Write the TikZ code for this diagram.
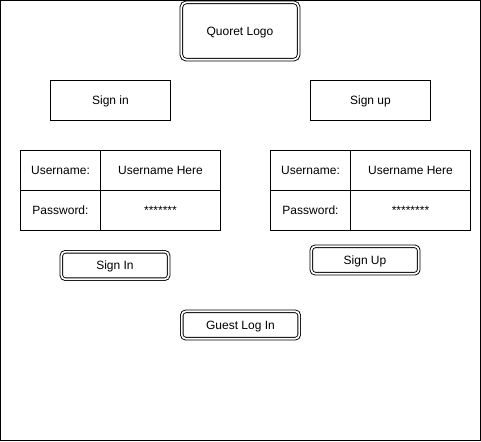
\documentclass[tikz,border=0pt]{standalone}
\usepackage{fontspec}
\setmainfont{Liberation Sans}
\begin{document}
\begin{tikzpicture}[x=1pt,y=-1pt,
  every node/.style={font=\fontsize{12}{14}\selectfont, text height=9.6pt, text depth=1.4pt, inner sep=0pt},
  plainbox/.style={draw, line width=1pt, anchor=north west},
  dblbox/.style={draw, line width=0.9pt, double, double distance=1.7pt, anchor=center},
  cell/.style={draw, line width=1pt, anchor=north west}
]
\useasboundingbox (0,0) rectangle (481,441);
\draw[line width=1pt] (0.5,0.5) rectangle (480.5,440.5);
% logo
\node[dblbox, rounded corners=5pt, minimum width=117.4pt, minimum height=57.4pt] (logo) at (240,31) {Quoret Logo};
% headers
\node[plainbox, minimum width=120pt, minimum height=40pt] (signin) at (50,80) {Sign in};
\node[plainbox, minimum width=120pt, minimum height=40pt] (signup) at (310,80) {Sign up};
% left table
\node[cell, minimum width=80pt, minimum height=40pt] (lu) at (20,150) {Username:};
\node[cell, minimum width=120pt, minimum height=40pt] (luv) at (100,150) {Username Here};
\node[cell, minimum width=80pt, minimum height=40pt] (lp) at (20,190) {Password:};
\node[cell, minimum width=120pt, minimum height=40pt] (lpv) at (100,190) {*******};
% right table
\node[cell, minimum width=80pt, minimum height=40pt] (ru) at (270,150) {Username:};
\node[cell, minimum width=120pt, minimum height=40pt] (ruv) at (350,150) {Username Here};
\node[cell, minimum width=80pt, minimum height=40pt] (rp) at (270,190) {Password:};
\node[cell, minimum width=120pt, minimum height=40pt] (rpv) at (350,190) {********};
% buttons
\node[dblbox, rounded corners=4pt, minimum width=107.4pt, minimum height=27.4pt] (btnin) at (115,265.5) {Sign In};
\node[dblbox, rounded corners=4pt, minimum width=107.4pt, minimum height=27.4pt] (btnup) at (365,260) {Sign Up};
\node[dblbox, rounded corners=4pt, minimum width=117.4pt, minimum height=27.4pt] (guest) at (240.5,325) {Guest Log In};
\end{tikzpicture}
\end{document}
